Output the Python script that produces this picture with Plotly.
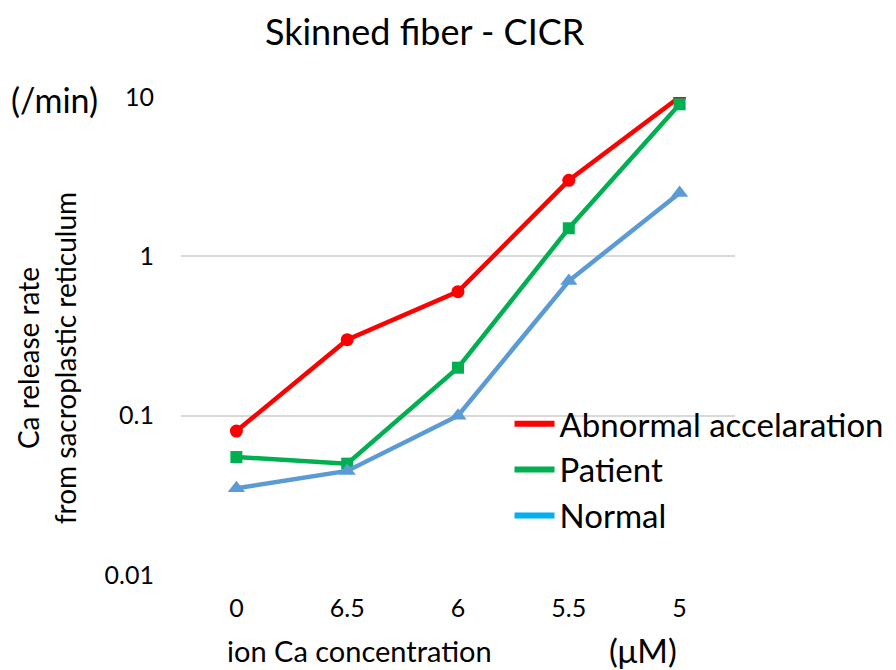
import plotly.graph_objects as go

# data
concentracoes = ["0", "6.5", "6", "5.5", "5"]
anormal = [0.08, 0.30, 0.60, 3.0, 10.0]
paciente = [0.055, 0.05, 0.20, 1.5, 9.0]
normal = [0.035, 0.045, 0.10, 0.70, 2.5]

y_ticks = [0.01, 0.1, 1, 10]
y_tick_text = ["0.01", "0.1", "1", "10"]

FONTE = "Lato, 'Open Sans', sans-serif"

series = [
    ("Abnormal accelaration", anormal, "#ff0000", "circle", 13, "#ff0000"),
    ("Patient", paciente, "#00b050", "square", 12, "#00b050"),
    ("Normal", normal, "#5b9bd5", "triangle-up", 15, "#00b0f0"),
]

fig = go.Figure()

for nome, valores, cor, simbolo, tamanho, cor_legenda in series:
    fig.add_trace(go.Scatter(
        x=concentracoes, y=valores,
        mode="lines+markers",
        line=dict(color=cor, width=4.5),
        marker=dict(symbol=simbolo, size=tamanho, color=cor),
        showlegend=False,
    ))

# legend entries only show a short line, like the original
for nome, valores, cor, simbolo, tamanho, cor_legenda in series:
    fig.add_trace(go.Scatter(
        x=[None], y=[None],
        mode="lines",
        line=dict(color=cor_legenda, width=6),
        name=nome,
        legendgroup=nome,
    ))

fig.update_layout(
    width=896, height=670,
    paper_bgcolor="white", plot_bgcolor="white",
    margin=dict(l=173, r=169, t=89, b=103, autoexpand=False),
    font=dict(family=FONTE, size=24, color="black"),
    title=dict(text="Skinned fiber - CICR", x=0.465, xanchor="center",
               y=0.982, yanchor="top", font=dict(size=36)),
    xaxis=dict(type="category", range=[-0.5, 4.5], showgrid=False,
               showline=False, zeroline=False, ticks="", automargin=False,
               ticklabelstandoff=16, tickfont=dict(size=25)),
    yaxis=dict(type="log", range=[-2, 1], tickvals=y_ticks,
               ticktext=y_tick_text, showgrid=True, gridcolor="#d9d9d9",
               gridwidth=1.5, showline=False, zeroline=False, ticks="",
               automargin=False, ticklabelstandoff=26,
               tickfont=dict(size=25)),
    legend=dict(x=0.593, y=0.375, xanchor="left", yanchor="top",
                font=dict(size=33), bgcolor="rgba(0,0,0,0)",
                tracegroupgap=0, itemwidth=40),
    annotations=[
        dict(text="Ca release rate<br>from sacroplastic reticulum",
             x=-0.31, y=0.454, xref="paper", yref="paper", showarrow=False,
             textangle=-90, font=dict(size=28), xanchor="left",
             yanchor="middle"),
        dict(text="(/min)", x=-0.311, y=0.994, xref="paper", yref="paper",
             showarrow=False, xanchor="left", yanchor="middle",
             font=dict(size=34)),
        dict(text="ion Ca concentration", x=0.322, y=-0.157, xref="paper",
             yref="paper", showarrow=False, xanchor="center", yanchor="middle",
             font=dict(size=29)),
        dict(text="(μM)", x=0.834, y=-0.157, xref="paper", yref="paper",
             showarrow=False, xanchor="center", yanchor="middle",
             font=dict(size=33)),
    ],
)

fig.write_html("out.html")
